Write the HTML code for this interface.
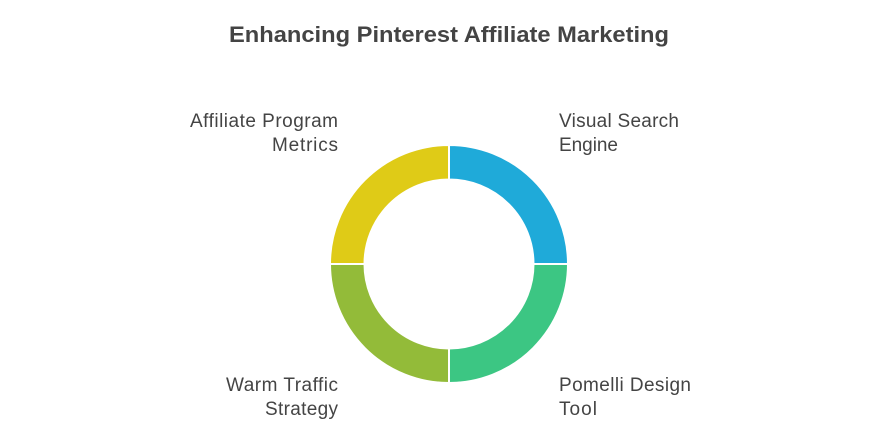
<!DOCTYPE html>
<html><head><meta charset="utf-8"><style>
html,body{margin:0;padding:0;background:#fff;width:886px;height:441px;overflow:hidden}
</style></head><body>
<svg width="886" height="441" viewBox="0 0 886 441" xmlns="http://www.w3.org/2000/svg" font-family="Liberation Sans, sans-serif">
<text x="449" y="42" text-anchor="middle" font-size="22" font-weight="bold" fill="#444" textLength="440" lengthAdjust="spacingAndGlyphs">Enhancing Pinterest Affiliate Marketing</text>
<g stroke="#fff" stroke-width="2">
<path d="M449 145 A119 119 0 0 1 568 264 L533.5 264 A84.5 84.5 0 0 0 449 179.5 Z" fill="#1faad9"/>
<path d="M568 264 A119 119 0 0 1 449 383 L449 348.5 A84.5 84.5 0 0 0 533.5 264 Z" fill="#3cc683"/>
<path d="M449 383 A119 119 0 0 1 330 264 L364.5 264 A84.5 84.5 0 0 0 449 348.5 Z" fill="#93bb39"/>
<path d="M330 264 A119 119 0 0 1 449 145 L449 179.5 A84.5 84.5 0 0 0 364.5 264 Z" fill="#dfcb17"/>
</g>
<g font-size="19" fill="#444" lengthAdjust="spacingAndGlyphs">
<text x="190" y="127" textLength="148">Affiliate Program</text>
<text x="272" y="151" textLength="66">Metrics</text>
<text x="559" y="127" textLength="120">Visual Search</text>
<text x="559" y="151" textLength="59">Engine</text>
<text x="226" y="391" textLength="112">Warm Traffic</text>
<text x="265" y="415" textLength="73">Strategy</text>
<text x="559" y="391" textLength="132">Pomelli Design</text>
<text x="559" y="415" textLength="38">Tool</text>
</g>
</svg>
</body></html>
